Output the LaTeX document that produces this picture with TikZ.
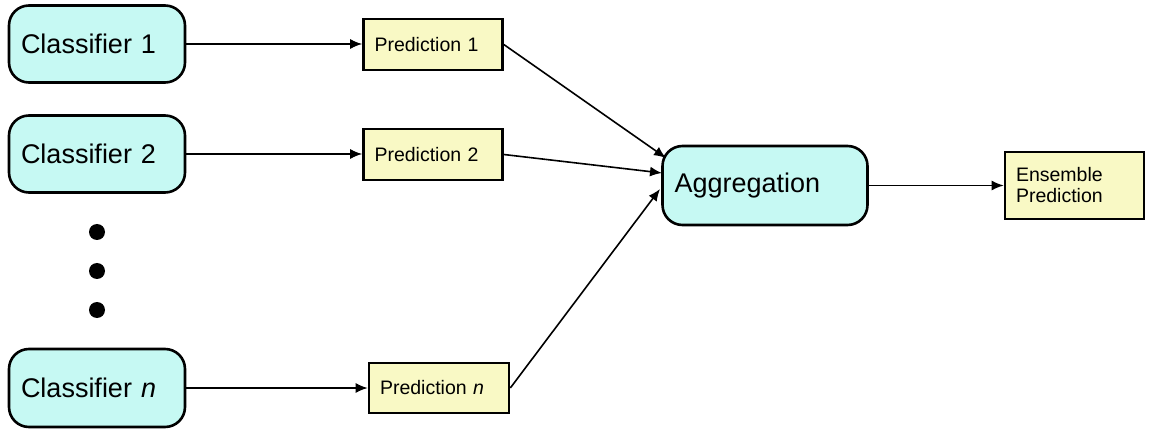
\documentclass[tikz,border=0pt]{standalone}
\usepackage{fontspec}
\setmainfont{Liberation Sans}
\usetikzlibrary{arrows.meta}
\definecolor{cyanfill}{RGB}{198,249,243}
\definecolor{yelfill}{RGB}{249,249,197}
\begin{document}
\begin{tikzpicture}[x=1pt,y=-1pt,
  clsbox/.style={draw=black,line width=2.6pt,fill=cyanfill,rounded corners=20pt,
    minimum height=77pt,inner xsep=12pt,align=left,font=\fontsize{27}{30}\selectfont},
  predbox/.style={draw=black,line width=2.6pt,fill=yelfill,minimum height=51pt,
    minimum width=139pt,inner xsep=11pt,align=left,font=\fontsize{19.5}{21}\selectfont},
  conn/.style={line width=1.6pt,-{Latex[length=12pt,width=10pt]}},
  dotmark/.style={circle,fill=black,inner sep=0pt,minimum size=16pt}]
\useasboundingbox (0,0) rectangle (1150,435);
% classifiers
\node[clsbox,text width=152pt] (c1) at (97,44) {Classifier 1};
\node[clsbox,text width=152pt] (c2) at (97,154) {Classifier 2};
\node[clsbox,text width=152pt,minimum height=78pt] (cn) at (97,388) {Classifier \textit{n}};
% dots
\node[dotmark] (d1) at (97,232) {};
\node[dotmark] (d2) at (97,271) {};
\node[dotmark] (d3) at (97,310) {};
% predictions
\node[predbox,text width=117pt] (p1) at (433,44.5) {Prediction 1};
\node[predbox,text width=117pt] (p2) at (433,154.5) {Prediction 2};
\node[predbox,text width=118pt,minimum width=140pt,minimum height=50pt] (pn) at (439,388) {Prediction \textit{n}};
% aggregation
\node[clsbox,text width=181pt,minimum height=79pt] (agg) at (765,185.5) {Aggregation};
% ensemble
\node[predbox,text width=117pt,minimum height=67pt] (ens) at (1074.5,185.5) {Ensemble\\[0pt]Prediction};
% targets on aggregation
\coordinate (a1) at (666,158);
\coordinate (a2) at (662,173);
\coordinate (a3) at (660,189);
% connectors
\draw[conn] (c1.east) -- (c1.east -| p1.west);
\draw[conn] (c2.east) -- (c2.east -| p2.west);
\draw[conn] (cn.east) -- (cn.east -| pn.west);
\draw[conn] (p1.east) -- (a1);
\draw[conn] (p2.east) -- (a2);
\draw[conn] (pn.east) -- (a3);
\draw[conn] (agg.east) -- (ens.west);
\end{tikzpicture}
\end{document}
